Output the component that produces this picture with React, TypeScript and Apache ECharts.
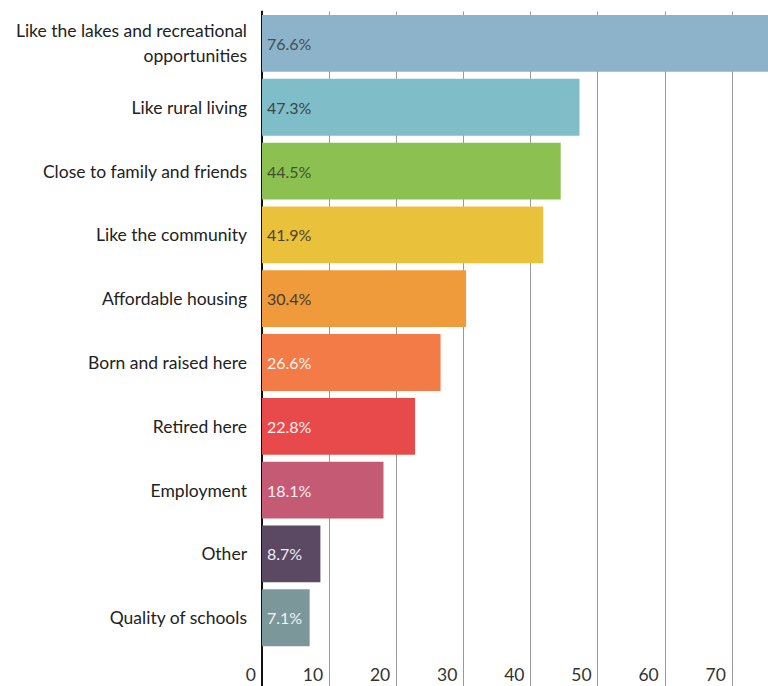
import React, { useEffect, useRef } from "react";
import * as echarts from "echarts";

const categories = [
  "Like the lakes and recreational\nopportunities",
  "Like rural living",
  "Close to family and friends",
  "Like the community",
  "Affordable housing",
  "Born and raised here",
  "Retired here",
  "Employment",
  "Other",
  "Quality of schools",
];
const values = [76.6, 47.3, 44.5, 41.9, 30.4, 26.6, 22.8, 18.1, 8.7, 7.1];
const barColors = [
  "#8db3cb",
  "#7fbec9",
  "#8cc152",
  "#eac13b",
  "#ef9b3c",
  "#f27b47",
  "#e84a4b",
  "#c45a73",
  "#5b4862",
  "#7c9799",
];
const labelColors = [
  "#3f4f55",
  "#3c4446",
  "#3f5030",
  "#4a4230",
  "#4a3a2a",
  "#fff4ee",
  "#fff0ee",
  "#fff0f4",
  "#f0eef4",
  "#eef4f4",
];
const xTicks = { min: 0, max: 80, interval: 10 };

export default function App() {
  const ref = useRef<HTMLDivElement>(null);
  useEffect(() => {
    if (!ref.current) return;
    const chart = echarts.init(ref.current, undefined, { renderer: "svg" });
    const font = "Lato";
    chart.setOption({
      animation: false,
      backgroundColor: "#ffffff",
      grid: {
        left: 262,
        top: 11.5,
        width: 537,
        height: 702,
        containLabel: false,
        outerBoundsMode: "none",
      },
      xAxis: {
        type: "value",
        position: "bottom",
        min: xTicks.min,
        max: xTicks.max,
        interval: xTicks.interval,
        offset: -50,
        axisLine: { show: false },
        axisTick: { show: false },
        axisLabel: {
          margin: 2,
          align: "right",
          padding: [0, 6, 0, 0],
          showMaxLabel: false,
          fontFamily: font,
          fontSize: 17.5,
          color: "#333333",
        },
        splitLine: { show: true, lineStyle: { color: "#9a9a9a", width: 1 } },
      },
      yAxis: {
        type: "category",
        inverse: true,
        data: [...categories, ""],
        axisLine: { show: true, onZero: false, lineStyle: { color: "#111111", width: 2 } },
        axisTick: { show: false },
        axisLabel: {
          margin: 15,
          fontFamily: font,
          fontSize: 17.5,
          lineHeight: 25,
          color: "#222222",
          align: "right",
        },
        splitLine: { show: false },
      },
      series: [
        {
          type: "bar",
          barCategoryGap: "11%",
          data: values.map((v, i) => ({
            value: v,
            itemStyle: { color: barColors[i] },
            label: { color: labelColors[i] },
          })),
          label: {
            show: true,
            position: "insideLeft",
            distance: 5,
            fontFamily: font,
            fontSize: 16,
            formatter: (p: any) => p.value.toFixed(1) + "%",
          },
        },
      ],
    });
    return () => chart.dispose();
  }, []);
  return (
    <div
      ref={ref}
      style={{ position: "fixed", left: 0, top: 0, width: 768, height: 686 }}
    />
  );
}
